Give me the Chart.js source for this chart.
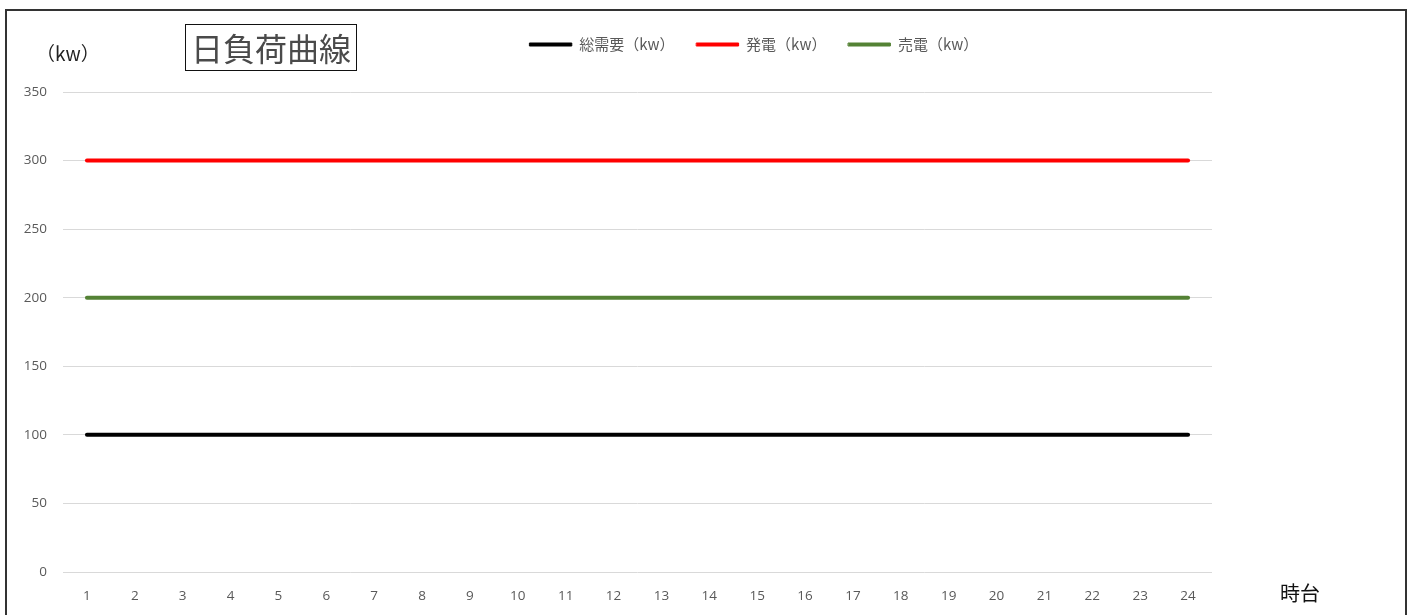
<!DOCTYPE html>
<html>
<head>
<meta charset="utf-8">
<script src="https://cdn.jsdelivr.net/npm/chart.js@4/dist/chart.umd.min.js"></script>
<style>
  body { margin: 0; background: #fff; }
  #wrap { position: relative; width: 1413px; height: 615px; overflow: hidden; }
  #frame { position: absolute; left: 5px; top: 9px; width: 1398px; height: 640px; border: 2px solid #333; }
  #ttl { position: absolute; left: 185px; top: 24px; padding: 0 5px; height: 45px; line-height: 45px;
         border: 1.5px solid #111; font-family: "Noto Sans CJK JP", sans-serif; font-size: 32px; color: #4a4a4a; }
  #unit { position: absolute; left: 36px; top: 39px; font-family: "Noto Sans CJK JP", sans-serif; font-size: 19px; color: #222; }
  #xname { position: absolute; left: 1280px; top: 578px; font-family: "Noto Sans CJK JP", sans-serif; font-size: 20px; color: #111; }
  canvas { position: absolute; left: 0; top: 0; }
</style>
</head>
<body>
<div id="wrap">
  <canvas id="loadCurve" width="1413" height="615"></canvas>
  <div id="frame"></div>
  <div id="ttl">日負荷曲線</div>
  <div id="unit">（kw）</div>
  <div id="xname">時台</div>
</div>
<script>
var hours = ["1","2","3","4","5","6","7","8","9","10","11","12","13","14","15","16","17","18","19","20","21","22","23","24"];
var demand = [100,100,100,100,100,100,100,100,100,100,100,100,100,100,100,100,100,100,100,100,100,100,100,100];
var generation = [300,300,300,300,300,300,300,300,300,300,300,300,300,300,300,300,300,300,300,300,300,300,300,300];
var sold = [200,200,200,200,200,200,200,200,200,200,200,200,200,200,200,200,200,200,200,200,200,200,200,200];
var seriesNames = ["総需要（kw）", "発電（kw）", "売電（kw）"];
var seriesColors = ["#000000", "#ff0000", "#548235"];
var yTicks = [0, 50, 100, 150, 200, 250, 300, 350];

// move the legend to where the original one sits
var legendShift = {
  id: "legendShift",
  afterLayout: function(chart) {
    var lg = chart.legend;
    if (!lg) return;
    var dx = 754 - (lg.left + lg.right) / 2;
    lg.left += dx;
    lg.right += dx;
    lg.top -= 30;
    lg.bottom -= 30;
  }
};

new Chart("loadCurve", {
  type: "line",
  data: {
    labels: hours,
    datasets: [demand, generation, sold].map(function(vals, i) {
      return {
        label: seriesNames[i],
        data: vals,
        borderColor: seriesColors[i],
        backgroundColor: seriesColors[i],
        borderWidth: 4,
        borderCapStyle: "round",
        pointRadius: 0,
        tension: 0
      };
    })
  },
  options: {
    responsive: false,
    animation: false,
    layout: { padding: { left: 0, right: 201, top: 45, bottom: 0 } },
    plugins: {
      tooltip: { enabled: false },
      legend: {
        position: "top",
        labels: {
          boxWidth: 42,
          boxHeight: 3,
          padding: 22,
          color: "#595959",
          font: { family: "'Noto Sans CJK JP', sans-serif", size: 15 },
          generateLabels: function(chart) {
            var items = Chart.defaults.plugins.legend.labels.generateLabels(chart);
            items.forEach(function(it) { it.lineWidth = 1; });
            return items;
          }
        }
      }
    },
    scales: {
      x: {
        offset: true,
        grid: { display: false, drawTicks: false },
        border: { display: false },
        ticks: { color: "#595959", padding: 16, font: { family: "'Open Sans', sans-serif", size: 13.5 } },
        afterFit: function(s) { s.height = 43; }
      },
      y: {
        min: 0,
        max: 350,
        afterBuildTicks: function(s) { s.ticks = yTicks.map(function(v) { return { value: v }; }); },
        grid: { color: "#d9d9d9", lineWidth: 1, drawTicks: false },
        border: { display: false },
        ticks: { color: "#595959", padding: 16, font: { family: "'Open Sans', sans-serif", size: 13.5 } },
        afterFit: function(s) { s.width = 63; }
      }
    }
  },
  plugins: [legendShift]
});
</script>
</body>
</html>
